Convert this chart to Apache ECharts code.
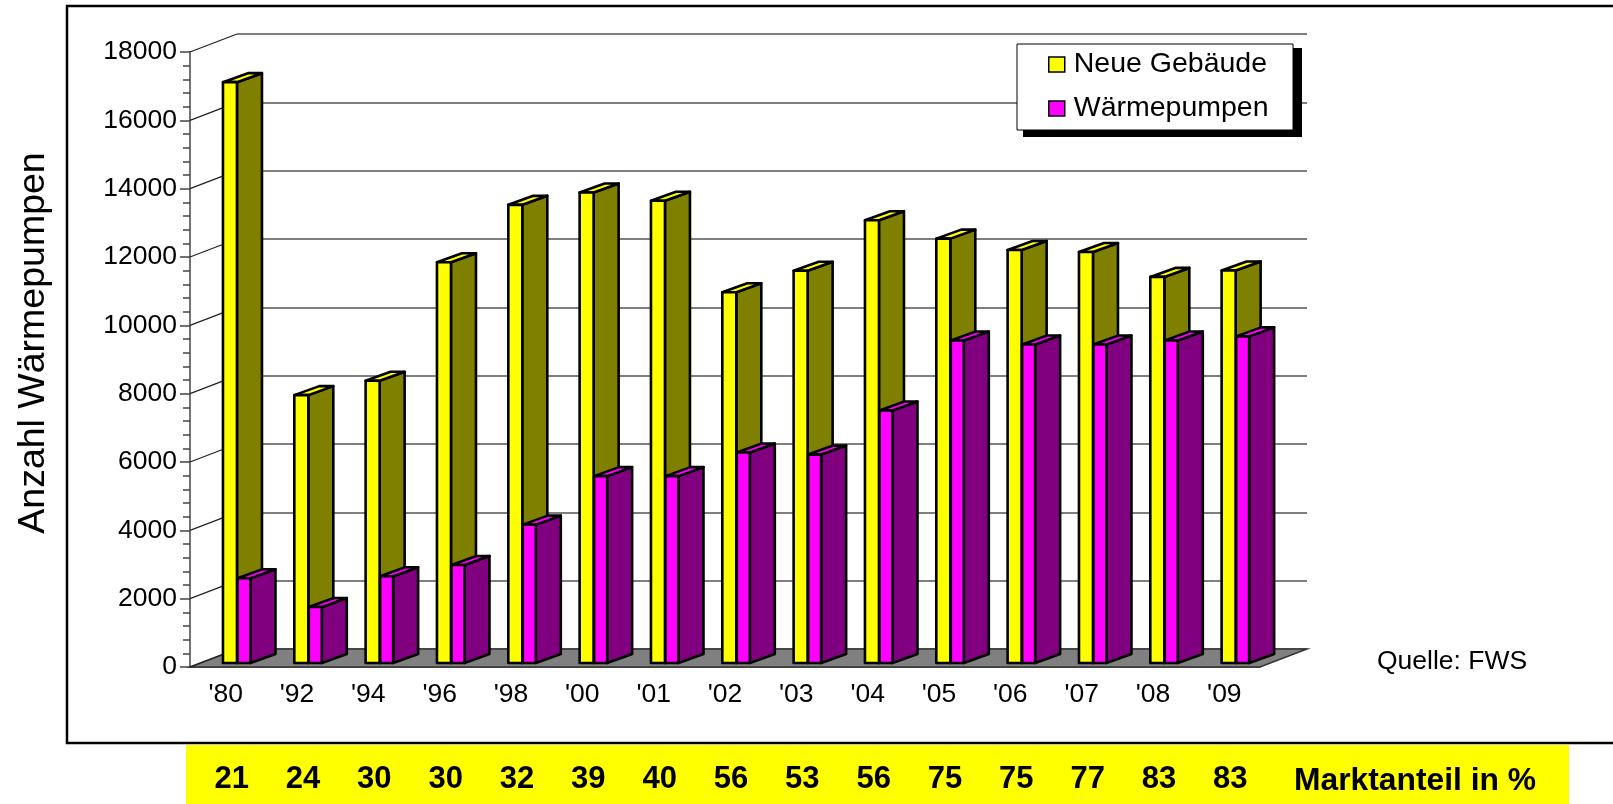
<!DOCTYPE html>
<html><head><meta charset="utf-8">
<style>html,body{margin:0;padding:0;background:#fff}#c{width:1613px;height:804px}</style>
<script src="https://cdn.jsdelivr.net/npm/echarts@6/dist/echarts.min.js"></script>
</head><body><div id="c"></div>
<script>
const years = ["'80","'92","'94","'96","'98","'00","'01","'02","'03","'04","'05","'06","'07","'08","'09"];
const neueGebaeude = [17000,7840,8260,11730,13410,13770,13530,10850,11480,12960,12420,12090,12030,11300,11490];
const waermepumpen = [2480,1640,2540,2870,4050,5470,5470,6160,6100,7390,9440,9320,9320,9440,9560];
const marktanteil = [21,24,30,30,32,39,40,56,53,56,75,75,77,83,83];
const yTicks = [0,2000,4000,6000,8000,10000,12000,14000,16000,18000];

const FONT = 'Liberation Sans';
const BACK_DX = 47, BACK_DY = -18;      // depth of the chart box
const BAR_LIFT = -4;                    // bars stand slightly in front of the back of the floor

function bar3d(fill, sideFill, topFill, dx, w, depthX, depthY) {
  return function (params, api) {
    const i = api.value(0), v = api.value(1);
    const top = api.coord([i, v]), base = api.coord([i, 0]);
    const x = top[0] + dx, yT = top[1] + BAR_LIFT, yB = base[1] + BAR_LIFT;
    const line = {stroke: '#000', lineWidth: 2.6, lineJoin: 'round'};
    return {type: 'group', children: [
      {type: 'polygon', shape: {points: [[x+w,yT],[x+w+depthX,yT+depthY],[x+w+depthX,yB+depthY],[x+w,yB]]},
       style: {fill: sideFill, ...line}},
      {type: 'polygon', shape: {points: [[x,yT],[x+depthX,yT+depthY],[x+w+depthX,yT+depthY],[x+w,yT]]},
       style: {fill: topFill, ...line}},
      {type: 'rect', shape: {x: x, y: yT, width: w, height: yB - yT},
       style: {fill: fill, ...line}}
    ]};
  };
}

const chart = echarts.init(document.getElementById('c'), null, {renderer: 'canvas'});
chart.setOption({
  animation: false,
  backgroundColor: '#fff',
  textStyle: {fontFamily: FONT},
  graphic: [
    {type: 'rect', z: -5, shape: {x: 186, y: 745, width: 1383, height: 59}, style: {fill: '#ffff00'}},
    {type: 'rect', z: -4, shape: {x: 67, y: 6, width: 1570, height: 737}, style: {fill: 'none', stroke: '#000', lineWidth: 2.5}},
    {type: 'rect', z: 3, shape: {x: 1023, y: 48, width: 279, height: 89}, style: {fill: '#000'}},
    {type: 'rect', z: 3, shape: {x: 1017, y: 44, width: 276, height: 86}, style: {fill: '#fff', stroke: '#000', lineWidth: 1}},
    {type: 'text', z: 5, x: 1377, y: 648, style: {text: 'Quelle: FWS', fontFamily: FONT, fontSize: 26.5, fill: '#000'}},
    {type: 'text', z: 5, x: 1294, y: 765, style: {text: 'Marktanteil in %', fontFamily: FONT, fontSize: 31.8, fontWeight: 'bold', fill: '#000'}},
    {type: 'text', z: 5, x: 34, y: 343, rotation: Math.PI / 2,
     style: {text: 'Anzahl Wärmepumpen', fontFamily: FONT, fontSize: 37.5, fill: '#000', align: 'center', verticalAlign: 'middle'}}
  ],
  legend: {
    data: ['Neue Gebäude','Wärmepumpen'],
    orient: 'vertical', left: 1048, top: 50, padding: 0,
    itemGap: 15, itemWidth: 16, itemHeight: 15, icon: 'rect',
    itemStyle: {borderColor: '#000', borderWidth: 1.5},
    textStyle: {fontFamily: FONT, fontSize: 28.5, color: '#000', padding: [0,0,0,4]}
  },
  grid: [
    {left: 190, top: 52, width: 1070, height: 615},
    {left: 190 + BACK_DX, top: 52 + BACK_DY, width: 1070, height: 615},
    {left: 196, top: 52, width: 1070, height: 615}
  ],
  xAxis: [
    {type: 'category', gridIndex: 0, data: years, axisTick: {show: false},
     axisLine: {lineStyle: {color: '#333', width: 1.5}},
     axisLabel: {fontFamily: FONT, fontSize: 26.5, color: '#000', margin: 14, interval: 0}},
    {type: 'category', gridIndex: 1, data: years, show: false},
    {type: 'category', gridIndex: 2, data: marktanteil, position: 'bottom',
     axisLine: {show: false}, axisTick: {show: false},
     axisLabel: {fontFamily: FONT, fontSize: 31, fontWeight: 'bold', color: '#000', margin: 97, interval: 0}}
  ],
  yAxis: [
    {type: 'value', gridIndex: 0, min: 0, max: 18000, interval: 2000,
     axisLine: {show: true, lineStyle: {color: '#444', width: 1.5}},
     axisTick: {show: true, length: 10, lineStyle: {color: '#444', width: 1.5}},
     minorTick: {show: true, splitNumber: 5, length: 7, lineStyle: {color: '#444', width: 1.5}},
     splitLine: {show: false},
     axisLabel: {fontFamily: FONT, fontSize: 26.5, color: '#000', margin: 13, padding: [3,0,0,0], hideOverlap: false,
                 formatter: v => String(v)}},
    {type: 'value', gridIndex: 1, min: 0, max: 18000, interval: 2000,
     axisLine: {show: false}, axisTick: {show: false}, axisLabel: {show: false},
     splitLine: {show: true, lineStyle: {color: '#555', width: 1.5}}},
    {type: 'value', gridIndex: 2, min: 0, max: 18000, show: false}
  ],
  series: [
    {type: 'custom', name: 'floor', xAxisIndex: 0, yAxisIndex: 0, z: 1, silent: true,
     data: [[0, 0]],
     renderItem: function (params, api) {
       const c = params.coordSys, yB = c.y + c.height;
       return {type: 'polygon',
         shape: {points: [[c.x,yB],[c.x+BACK_DX,yB+BACK_DY],[c.x+c.width+BACK_DX,yB+BACK_DY],[c.x+c.width,yB]]},
         style: {fill: '#808080', stroke: '#333', lineWidth: 1.5}};
     }},
    {type: 'custom', name: 'wall', xAxisIndex: 0, yAxisIndex: 0, z: 1, silent: true,
     data: yTicks.map(v => [0, v]),
     renderItem: function (params, api) {
       const c = params.coordSys, y = api.coord([0, api.value(1)])[1];
       return {type: 'line', shape: {x1: c.x, y1: y, x2: c.x + BACK_DX, y2: y + BACK_DY},
         style: {stroke: '#222', lineWidth: 1.2}};
     }},
    {type: 'custom', name: 'Neue Gebäude', xAxisIndex: 0, yAxisIndex: 0, z: 2,
     itemStyle: {color: '#ffff00'},
     data: neueGebaeude.map((v, i) => [i, v]),
     renderItem: bar3d('#ffff00', '#808000', '#ffff00', -2.7, 14, 25, -9)},
    {type: 'custom', name: 'Wärmepumpen', xAxisIndex: 0, yAxisIndex: 0, z: 2.5,
     itemStyle: {color: '#ff00ff'},
     data: waermepumpen.map((v, i) => [i, v]),
     renderItem: bar3d('#ff00ff', '#800080', '#ff00ff', 11.8, 13, 25, -9)}
  ]
});
</script></body></html>
